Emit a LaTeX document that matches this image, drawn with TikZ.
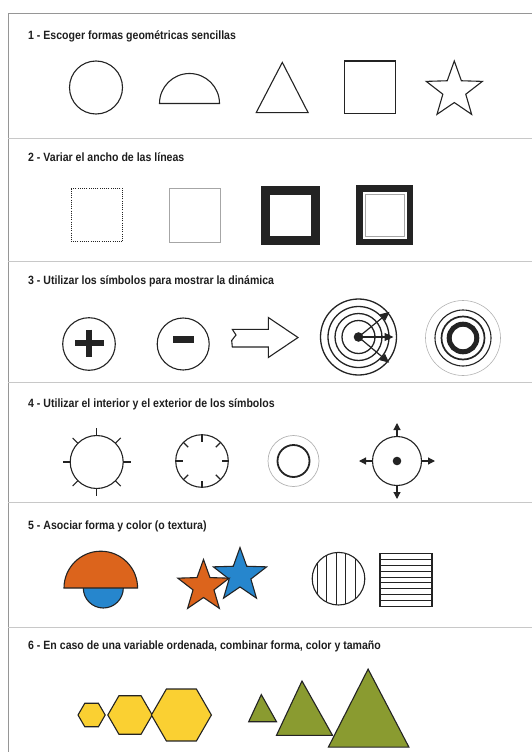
\documentclass[tikz,border=0pt]{standalone}
\usepackage{fontspec}
\newfontfamily\titlefont[FakeStretch=0.88]{Liberation Sans}
\usepackage{tikz}
\usetikzlibrary{arrows.meta,shapes.geometric}
\definecolor{shapeline}{RGB}{35,35,35}
\definecolor{titlegray}{RGB}{30,30,30}
\definecolor{framegray}{RGB}{150,150,150}
\definecolor{rulegray}{RGB}{200,200,200}
\definecolor{mapaorange}{RGB}{220,100,28}
\definecolor{mapablue}{RGB}{38,134,205}
\definecolor{mapayellow}{RGB}{250,208,50}
\definecolor{mapaolive}{RGB}{138,155,48}

\begin{document}
\begin{tikzpicture}[x=1pt, y=-1pt,
    outline/.style={draw=shapeline, line width=1.1pt},
    disc/.style={circle, outline, inner sep=0pt, minimum size=#1},
    starshape/.style={star, star points=5, star point ratio=2.45, outline, inner sep=0pt, minimum size=#1},
    hexshape/.style={regular polygon, regular polygon sides=6, outline, fill=mapayellow, inner sep=0pt, minimum size=#1},
    title/.style={anchor=base west, inner sep=0pt, text=titlegray, font=\titlefont\bfseries\fontsize{12}{14}\selectfont},
    divider/.style={draw=rulegray, line width=1pt},
    ray/.style={-{Triangle[length=9pt,width=8pt]}, draw=shapeline, line width=1.2pt},
    bar/.style={draw=shapeline, line width=6pt}
  ]
    \useasboundingbox (0,0) rectangle (532,752);
    \draw[framegray, line width=1pt] (532,13.6) -- (8,13.6) -- (8,752);
    \foreach \y in {138,261,382,502,627}
      \draw[divider] (8,\y) -- (532,\y);

    % titles
    \node[title] (t1) at (28,39.5) {1 - Escoger formas geométricas sencillas};
    \node[title] (t2) at (28,161) {2 - Variar el ancho de las líneas};
    \node[title] (t3) at (28,284.5) {3 - Utilizar los símbolos para mostrar la dinámica};
    \node[title] (t4) at (28,407) {4 - Utilizar el interior y el exterior de los símbolos};
    \node[title] (t5) at (28,529.5) {5 - Asociar forma y color (o textura)};
    \node[title] (t6) at (28,649) {6 - En caso de una variable ordenada, combinar forma, color y tamaño};

    % 1 - simple shapes
    \node[disc=53pt] (circ) at (96,87.5) {};
    \coordinate (semi) at (189.5,103.5);
    \draw[outline] (semi) ++(-30,0) arc[start angle=180, end angle=0, radius=30pt] -- cycle;
    \draw[outline] (256.2,112.6) -- (282.3,62.4) -- (308.1,112.6) -- cycle;
    \draw[outline] (344.4,61) rectangle (395.6,113.5);
    \node[starshape=59pt] (star) at (454.3,90.5) {};

    % 2 - line widths
    \draw[draw=shapeline, line width=1pt, dash pattern=on 1pt off 1.2pt] (71.3,188.6) rectangle (122.8,241.9);
    \draw[draw=gray!70, line width=0.6pt] (169.7,188.6) rectangle (220.5,241.9);
    \draw[draw=shapeline, line width=9pt] (265.8,190.4) rectangle (315.5,240.8);
    \draw[draw=shapeline, line width=6.5pt] (359.3,188.3) rectangle (409.8,241.8);
    \draw[draw=gray!70, line width=0.6pt] (365,194) rectangle (404,236);

    % 3 - dynamics
    \node[disc=52.6pt] (plus) at (89,344) {};
    \draw[bar] (75.3,342.5) -- (103.5,342.5);
    \draw[bar] (89,329.5) -- (89,356.6);
    \node[disc=52pt] (minus) at (183.2,344) {};
    \draw[bar, line width=6.5pt] (173,339.5) -- (194,339.5);
    \draw[outline, line join=miter] (232.3,329.3) -- (236,335) -- (231.7,340.5) -- (232.3,347)
      -- (268.3,347) -- (268.3,357.5) -- (298,337.5) -- (268.3,317.5) -- (268.3,329.3) -- cycle;
    \coordinate (radar) at (358.5,337);
    \foreach \r in {38,30.5,23.5,16.5}
      \draw[draw=shapeline, line width=1.3pt] (radar) circle[radius=\r pt];
    \fill[shapeline] (radar) circle[radius=4.8pt];
    \foreach \a/\l in {39/40,0/35,-40/40}
      \draw[ray] (radar) -- ++(\a:\l pt);
    \coordinate (rings) at (463,338);
    \draw[draw=gray!60, line width=0.6pt] (rings) circle[radius=37.5pt];
    \draw[draw=shapeline, line width=1.1pt] (rings) circle[radius=28pt];
    \draw[draw=shapeline, line width=1.7pt] (rings) circle[radius=21.5pt];
    \draw[draw=shapeline, line width=5pt] (rings) circle[radius=13.8pt];

    % 4 - inside and outside
    \node[disc=53pt] (sun) at (96.7,462) {};
    \foreach \a in {0,45,...,315}
      \draw[outline] (sun.center) ++(\a:26.5pt) -- ++(\a:7.5pt);
    \node[disc=52.6pt] (clock) at (202,461) {};
    \foreach \a in {0,45,...,315}
      \draw[outline] (clock.center) ++(\a:26.3pt) -- ++(\a:-6.8pt);
    \node[circle, draw=gray!60, line width=0.7pt, inner sep=0pt, minimum size=51pt] (halo) at (293.5,461) {};
    \node[circle, draw=shapeline, line width=1.8pt, inner sep=0pt, minimum size=32pt] (core) at (293.5,461) {};
    \node[disc=49pt] (dial) at (397,461) {};
    \fill[shapeline] (dial.center) circle[radius=4.3pt];
    \foreach \a in {0,90,180,270}
      \draw[ray, -{Triangle[length=7pt,width=7pt]}] (dial.center) ++(\a:24.5pt) -- ++(\a:13.5pt);

    % 5 - shape and colour
    \filldraw[fill=mapablue, outline] (103.3,588) circle[radius=20pt];
    \coordinate (dome) at (100.8,588);
    \filldraw[fill=mapaorange, outline] (dome) ++(-36.8,0) arc[start angle=180, end angle=0, radius=36.8pt] -- cycle;
    \node[starshape=56pt, fill=mapablue] (bstar) at (240,575.5) {};
    \node[starshape=54pt, fill=mapaorange] (ostar) at (203.5,586.5) {};
    \begin{scope}
      \clip (338.5,578.7) circle[radius=26.3pt];
      \foreach \x in {317,326.5,336,345.5,355}
        \draw[draw=shapeline, line width=0.9pt] (\x,550) -- (\x,608);
    \end{scope}
    \node[disc=52.6pt] (vstripes) at (338.5,578.7) {};
    \draw[outline] (380,553.6) rectangle (432,606.2);
    \foreach \i [evaluate=\i as \y using 553.6+\i*52.6/9] in {1,...,8}
      \draw[draw=shapeline, line width=0.9pt] (380,\y) -- (432,\y);

    % 6 - ordered variable
    \node[hexshape=27.2pt] (hexs) at (91.6,715) {};
    \node[hexshape=44.4pt] (hexm) at (130,715) {};
    \node[hexshape=60pt] (hexl) at (181.4,715) {};
    \filldraw[fill=mapaolive, outline] (248.7,721.7) -- (261.3,694.6) -- (276.5,721.7) -- cycle;
    \filldraw[fill=mapaolive, outline] (276.5,735.3) -- (302,681) -- (332.5,735.3) -- cycle;
    \filldraw[fill=mapaolive, outline] (328.4,747.1) -- (368.1,669.1) -- (408.9,747.1) -- cycle;
\end{tikzpicture}
\end{document}
